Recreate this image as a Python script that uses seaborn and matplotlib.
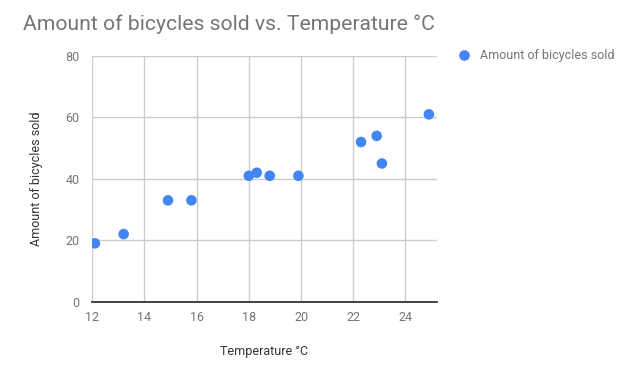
import matplotlib
matplotlib.use("Agg")
import matplotlib.pyplot as plt
import seaborn as sns
import pandas as pd

temperature = [12.1, 13.2, 14.9, 15.8, 18.0, 18.3, 18.8, 19.9, 22.3, 22.9, 23.1, 24.9]
bicycles_sold = [19, 22, 33, 33, 41, 42, 41, 41, 52, 54, 45, 61]
x_ticks = [12, 14, 16, 18, 20, 22, 24]
y_ticks = [0, 20, 40, 60, 80]
series_name = "Amount of bicycles sold"

sns.set_theme(style="white")
plt.rcParams['font.family'] = ['Roboto', 'DejaVu Sans']

df = pd.DataFrame({"Temperature °C": temperature, series_name: bicycles_sold,
                   "series": [series_name] * len(temperature)})

fig = plt.figure(figsize=(6.24, 3.65), dpi=100)
ax = fig.add_axes([92.3 / 624, 1 - 301.7 / 365, (436.7 - 92.3) / 624, (301.7 - 56) / 365])

sns.scatterplot(data=df, x="Temperature °C", y=series_name, hue="series",
                palette=["#4285F4"], s=58, edgecolor="none", ax=ax, legend=True)

ax.set_xlim(12, 25.2)
ax.set_ylim(0, 80)
ax.set_xticks(x_ticks)
ax.set_yticks(y_ticks)
ax.grid(True, color="#cccccc", linewidth=1)
ax.set_axisbelow(True)
for s in ["top", "right", "left"]:
    ax.spines[s].set_visible(False)
ax.spines["bottom"].set_color("#333333")
ax.spines["bottom"].set_linewidth(1.3)
ax.spines["bottom"].set_zorder(3)
ax.tick_params(axis="both", labelsize=9, labelcolor="#757575")
ax.tick_params(axis="x", length=0, pad=7)
ax.tick_params(axis="y", length=3, width=1, color="#cccccc", pad=6)

ax.set_xlabel("Temperature °C", fontsize=9, color="#333333", labelpad=15)
ax.set_ylabel(series_name, fontsize=9, color="#333333", labelpad=16)

fig.text(23 / 624, 1 - 24 / 365, "Amount of bicycles sold vs. Temperature °C",
         fontsize=15.2, color="#757575", va="center", ha="left")

handles, labels = ax.get_legend_handles_labels()
ax.legend(handles, labels, loc="center left", bbox_to_anchor=(446 / 624, 1 - 56 / 365),
          bbox_transform=fig.transFigure, frameon=False, fontsize=9,
          labelcolor="#757575", handletextpad=0.3, borderaxespad=0, markerscale=1.0)

fig.savefig("out.png", dpi=100)
